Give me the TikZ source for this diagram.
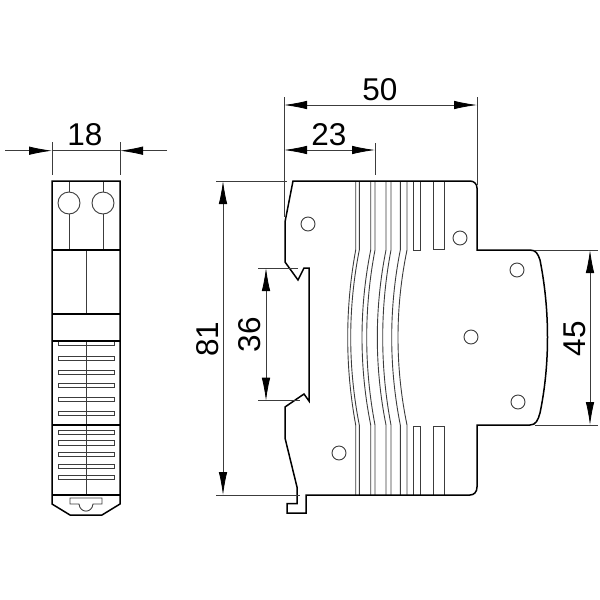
\documentclass[tikz,border=0pt]{standalone}
\usepackage{fontspec}
\setmainfont{Liberation Sans}
\usetikzlibrary{arrows.meta}
\definecolor{thin}{HTML}{3C3C3C}
\tikzset{
  outline/.style={draw=black,line width=1.5pt,line join=miter},
  part/.style={draw=black,line width=1.2pt},
  rib/.style={draw=thin,line width=0.9pt},
  hole/.style={draw=thin,line width=0.9pt,fill=white},
  dimln/.style={draw=thin,line width=0.8pt},
  tipe/.style={-{Latex[black,length=23pt,width=8.5pt]}},
  tipb/.style={{Latex[black,length=23pt,width=8.5pt]}-{Latex[black,length=23pt,width=8.5pt]}},
  dimtext/.style={inner sep=0pt,font=\fontsize{31.5}{31.5}\selectfont}
}
\begin{document}
\begin{tikzpicture}[x=1pt,y=-1pt]
\useasboundingbox (0,0) rectangle (600,600);

% ---- left view ----
\draw[rib] (69,181) -- (69,250) (103,181) -- (103,250);
\draw[rib] (86,250) -- (86,314);
\foreach \y in {358.3,372.3,385.7,399.3,413.3,432.3,443,454.7,466.3,477.7}
  \draw[rib,fill=white] (58,\y-2.2) rectangle (114,\y+2.2);
\draw[rib] (58,341) -- (58,345.3) -- (114,345.3) -- (114,341);
\draw[rib] (86,341) -- (86,495);
\draw[rib,fill=white] (69,203) circle (11);
\draw[rib,fill=white] (103,203) circle (11);
\draw[outline] (52,181) -- (120,181) -- (120,504) -- (102,515) -- (70,515) -- (52,504) -- cycle;
\draw[part] (52,250) -- (120,250) (52,314) -- (120,314) (52,341) -- (120,341) (52,425) -- (120,425) (52,495) -- (120,495);
\draw[rib] (70,504) -- (70,498) -- (102,498) -- (102,504) -- (93,504)
  .. controls (92,513.5) and (80,513.5) .. (79,504) -- cycle;

% ---- right view: ribs ----
\foreach \xt/\xm in {355.7/347.7,359.3/350.7,370.7/362,375/366.7,386/377.3,391/382.7,400.3/391.7,407/398}{
  \pgfmathsetmacro{\xc}{\xm-(\xt-\xm)/3}
  \draw[rib] (\xt,181) -- (\xt,250) .. controls (\xc,308) and (\xc,367) .. (\xt,425) -- (\xt,495);
}
\draw[rib] (413.3,181) -- (413.3,250) -- (420.3,250) -- (420.3,181);
\draw[rib] (433.7,181) -- (433.7,249.5) -- (444.3,249.5) -- (444.3,181);
\draw[rib] (413.3,495) -- (413.3,426) -- (420.3,426) -- (420.3,495);
\draw[rib] (433.7,495) -- (433.7,426) -- (444.3,426) -- (444.3,495);

% ---- right view: outline ----
\draw[outline] (293,181) -- (470,181) .. controls (474,181) and (477,184) .. (477,188)
  -- (477,250) -- (530,250) .. controls (536,250) and (538,254) .. (540,260)
  .. controls (550,310) and (550,365) .. (540,413)
  .. controls (538,420) and (536,425) .. (530,425)
  -- (477,425) -- (477,487) .. controls (477,492) and (474,495) .. (470,495)
  -- (306,495) -- (306,513) -- (287,513) -- (287,503.5) -- (297,503.5) -- (297,487)
  -- (285,438) -- (285,407) -- (304,394) -- (309,401) -- (309,268) -- (304,268)
  -- (298,280) -- (285,262) -- (285,222) -- cycle;

% ---- holes ----
\foreach \x/\y in {308/224,460/238,517/270,471/337,518/402,339/453}
  \draw[hole] (\x,\y) circle (7);

% ---- dimension 18 ----
\coordinate (a1) at (52,150.7);
\coordinate (a2) at (120,150.7);
\coordinate (a3) at (5,150.7);
\coordinate (a4) at (167,150.7);
\draw[dimln] (52,142) -- (52,175) (120,142) -- (120,175) (a1) -- (a2);
\draw[dimln,tipe] (a3) -- (a1);
\draw[dimln,tipe] (a4) -- (a2);
\node[dimtext] (t18) at (85,134.5) {18};

% ---- dimension 50 and 23 ----
\coordinate (b1) at (284,105);
\coordinate (b2) at (477,105);
\coordinate (c1) at (284,150);
\coordinate (c2) at (375,150);
\draw[dimln] (284,97) -- (284,217) (477,97) -- (477,185) (375,143) -- (375,175);
\draw[dimln,tipb] (b1) -- (b2);
\draw[dimln,tipb] (c1) -- (c2);
\node[dimtext] (t50) at (380,89.5) {50};
\node[dimtext] (t23) at (329,134.5) {23};

% ---- dimension 81 ----
\coordinate (d1) at (223,181);
\coordinate (d2) at (223,495);
\draw[dimln] (216,181) -- (287,181) (216,495) -- (300,495);
\draw[dimln,tipb] (d1) -- (d2);
\node[dimtext,rotate=90] (t81) at (207.5,339) {81};

% ---- dimension 36 ----
\coordinate (e1) at (266,268);
\coordinate (e2) at (266,400.7);
\draw[dimln] (258,268) -- (298,268) (258,400.7) -- (300,400.7);
\draw[dimln,tipb] (e1) -- (e2);
\node[dimtext,rotate=90] (t36) at (250,334.5) {36};

% ---- dimension 45 ----
\coordinate (f1) at (590,250);
\coordinate (f2) at (590,425);
\draw[dimln] (535,250) -- (598,250) (535,425) -- (598,425);
\draw[dimln,tipb] (f1) -- (f2);
\node[dimtext,rotate=90] (t45) at (574.5,338.5) {45};
\end{tikzpicture}
\end{document}
